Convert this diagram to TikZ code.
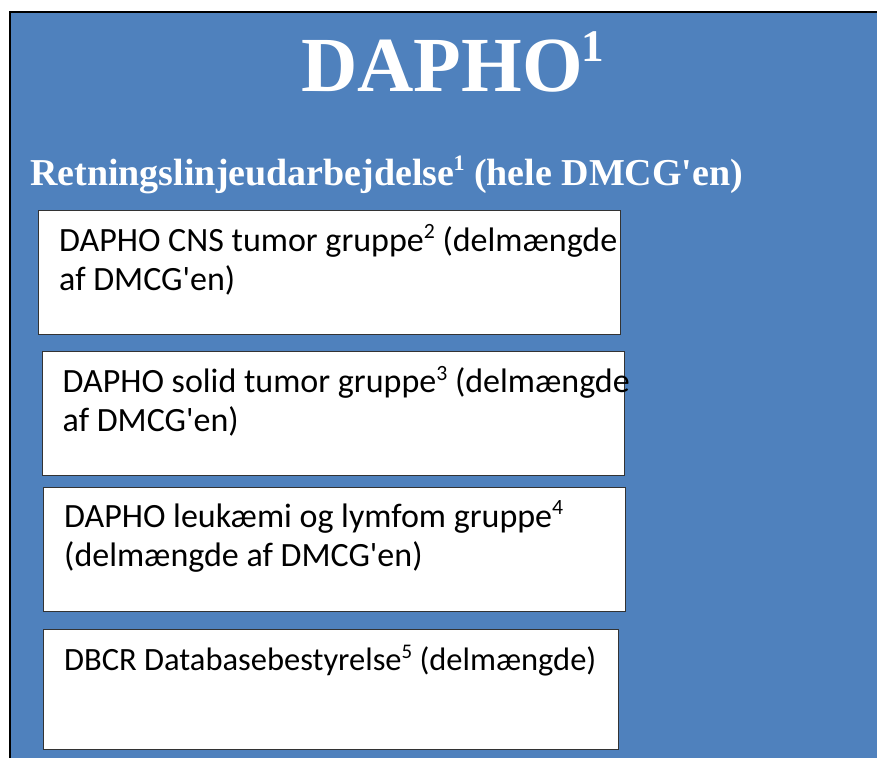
\documentclass[tikz,border=0pt]{standalone}
\usepackage{fontspec}
\setmainfont{Liberation Serif}
\newfontfamily\calib{Carlito}
\definecolor{bgblue}{RGB}{79,129,189}
\newcommand\mysup[1]{\raisebox{0.36em}{\scalebox{0.64}{#1}}}
\newcommand\titlesup[1]{\kern-1pt\raisebox{0.38em}{\scalebox{0.58}{#1}}}
\begin{document}
\begin{tikzpicture}[x=1pt,y=-1pt,
  boxstyle/.style={draw=black!80,line width=1.2pt,fill=white},
  boxtext/.style={anchor=base west,inner sep=0pt,font=\calib\fontsize{34}{39}\selectfont,align=left,text=black}]
\useasboundingbox (0,0) rectangle (877,758);
\fill[bgblue] (10,12) rectangle (877,758);
\draw[line width=2pt] (10,758) -- (10,12) -- (877,12);
\node[anchor=base west,inner sep=0pt,text=white,font=\fontsize{78}{84}\selectfont\bfseries] (title) at (301,91) {DAPHO\titlesup{1}};
\node[anchor=base west,inner sep=0pt,text=white,font=\fontsize{38}{44}\selectfont\bfseries] (sub) at (30,185) {Retningslinjeudarbejdelse\titlesup{1} (hele DMCG\textquotesingle en)};
\node[boxstyle,anchor=north west,minimum width=582pt,minimum height=124pt,inner sep=0pt] (b1) at (38,210) {};
\node[boxstyle,anchor=north west,minimum width=582.5pt,minimum height=124pt,inner sep=0pt] (b2) at (41.5,351) {};
\node[boxstyle,anchor=north west,minimum width=582pt,minimum height=124pt,inner sep=0pt] (b3) at (43,487) {};
\node[boxstyle,anchor=north west,minimum width=575pt,minimum height=120pt,inner sep=0pt] (b4) at (43,629) {};
\node[boxtext] (t1) at (59,290) {DAPHO CNS tumor gruppe\mysup{2} (delmængde\\af DMCG'en)};
\node[boxtext] (t2) at (62.5,431.5) {DAPHO solid tumor gruppe\mysup{3} (delmængde\\af DMCG'en)};
\node[boxtext] (t3) at (64,566) {DAPHO leukæmi og lymfom gruppe\mysup{4}\\(delmængde af DMCG'en)};
\node[boxtext,font=\calib\fontsize{32.5}{39}\selectfont] (t4) at (64,670) {DBCR Databasebestyrelse\mysup{5} (delmængde)};
\end{tikzpicture}
\end{document}
